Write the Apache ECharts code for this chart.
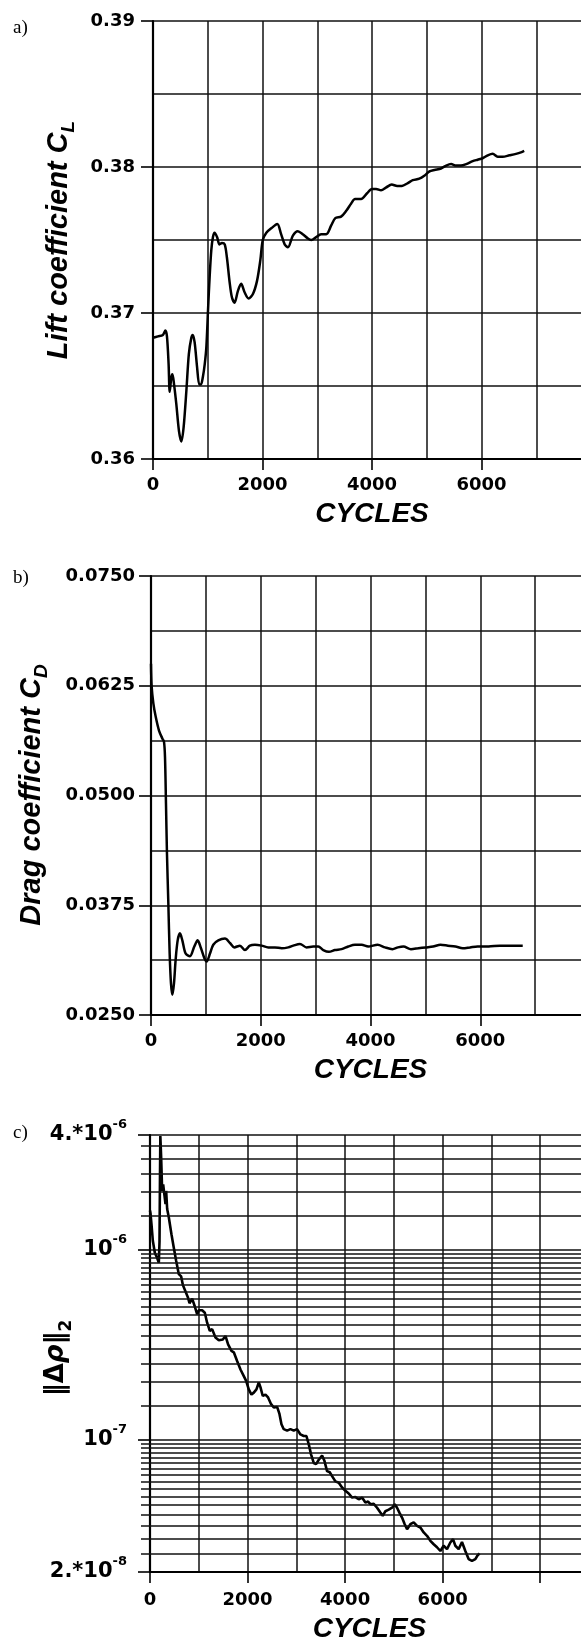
<!DOCTYPE html>
<html>
<head>
<meta charset="utf-8">
<title>Convergence history</title>
<script src="https://cdn.jsdelivr.net/npm/echarts@6.0.0/dist/echarts.min.js"></script>
<style>
  html, body { margin: 0; padding: 0; background: #fff; }
  #chart { width: 581px; height: 1643px; }
</style>
</head>
<body>
<div id="chart"></div>
<script>
// a) lift coefficient vs cycles
const liftData = [
  [0, 0.3683], [90, 0.3684], [180, 0.3685], [226, 0.3688], [255, 0.3684], [285, 0.3665],
  [305, 0.3646], [335, 0.3656], [355, 0.3658], [385, 0.3651], [425, 0.3638], [475, 0.3619],
  [518, 0.3612], [560, 0.3622], [610, 0.3647], [655, 0.3672], [700, 0.3683], [725, 0.3685],
  [760, 0.3680], [805, 0.3663], [845, 0.3651], [875, 0.3651], [910, 0.3656], [945, 0.3665],
  [975, 0.3677], [1005, 0.3702], [1035, 0.3725], [1065, 0.3743], [1095, 0.3752], [1125, 0.3755],
  [1170, 0.3752], [1215, 0.3747], [1260, 0.3748], [1310, 0.3747], [1350, 0.3738], [1400, 0.3721],
  [1440, 0.3711], [1490, 0.3707], [1550, 0.3715], [1610, 0.3720], [1675, 0.3714], [1745, 0.3710],
  [1825, 0.3713], [1900, 0.3722], [1960, 0.3736], [2005, 0.3750], [2070, 0.3755], [2160, 0.3758],
  [2270, 0.3761], [2340, 0.3754], [2405, 0.3747], [2465, 0.3745], [2555, 0.3753], [2645, 0.3756],
  [2735, 0.3754], [2830, 0.3751], [2890, 0.3750], [2980, 0.3752], [3070, 0.3754], [3165, 0.3754],
  [3255, 0.3760], [3330, 0.3765], [3435, 0.3766], [3530, 0.3770], [3620, 0.3775], [3690, 0.3778],
  [3800, 0.3778], [3910, 0.3782], [4000, 0.3785], [4075, 0.3785], [4165, 0.3784], [4260, 0.3786],
  [4360, 0.3788], [4460, 0.3787], [4545, 0.3787], [4655, 0.3789], [4745, 0.3791], [4865, 0.3792],
  [4955, 0.3794], [5050, 0.3797], [5140, 0.3798], [5260, 0.3799], [5355, 0.3801], [5445, 0.3802],
  [5535, 0.3801], [5625, 0.3801], [5720, 0.3802], [5840, 0.3804], [5930, 0.3805], [6020, 0.3806],
  [6115, 0.3808], [6205, 0.3809], [6295, 0.3807], [6385, 0.3807], [6510, 0.3808], [6630, 0.3809],
  [6720, 0.3810], [6780, 0.3811]
];

// b) drag coefficient vs cycles
const dragData = [
  [0, 0.0650], [12, 0.0624], [43, 0.0605], [85, 0.0590], [146, 0.0574], [206, 0.0565],
  [237, 0.0561], [255, 0.0544], [273, 0.0491], [291, 0.0434], [316, 0.0377], [340, 0.0320],
  [364, 0.0286], [389, 0.0273], [419, 0.0286], [449, 0.0313], [486, 0.0335], [528, 0.0343],
  [571, 0.0335], [631, 0.0320], [710, 0.0317], [789, 0.0328], [850, 0.0335], [911, 0.0326],
  [971, 0.0315], [1014, 0.0311], [1075, 0.0320], [1135, 0.0330], [1227, 0.0335], [1348, 0.0337],
  [1439, 0.0332], [1518, 0.0327], [1621, 0.0329], [1712, 0.0324], [1803, 0.0329], [1894, 0.0330],
  [2016, 0.0329], [2137, 0.0327], [2259, 0.0327], [2380, 0.0326], [2502, 0.0327], [2593, 0.0329],
  [2714, 0.0331], [2836, 0.0327], [2957, 0.0328], [3048, 0.0328], [3139, 0.0324], [3242, 0.0322],
  [3352, 0.0324], [3473, 0.0325], [3595, 0.0328], [3716, 0.0330], [3838, 0.0330], [3959, 0.0328],
  [4130, 0.0330], [4265, 0.0327], [4400, 0.0325], [4500, 0.0327], [4600, 0.0328], [4737, 0.0325],
  [4872, 0.0326], [5007, 0.0327], [5141, 0.0328], [5276, 0.0330], [5410, 0.0329], [5547, 0.0328],
  [5682, 0.0326], [5816, 0.0327], [5951, 0.0328], [6153, 0.0328], [6356, 0.0329], [6557, 0.0329],
  [6774, 0.0329]
];

// c) density residual norm vs cycles (log axis)
const residualData = [
  [0, 1.6e-6], [10, 1.55e-6], [31, 1.35e-6], [58, 1.11e-6], [99, 9.6e-7], [147, 9.0e-7],
  [181, 8.5e-7], [195, 1.1e-6], [205, 2.48e-6], [212, 3.95e-6], [229, 3.03e-6], [249, 2.03e-6],
  [270, 2.2e-6], [297, 2.24e-6], [318, 1.73e-6], [331, 2.03e-6], [352, 1.63e-6], [386, 1.47e-6],
  [440, 1.2e-6], [488, 1.02e-6], [536, 8.7e-7], [591, 7.4e-7], [639, 7.2e-7], [673, 6.5e-7],
  [728, 6.0e-7], [776, 5.6e-7], [810, 5.2e-7], [864, 5.5e-7], [919, 5.0e-7], [967, 4.55e-7],
  [1001, 4.78e-7], [1069, 4.78e-7], [1124, 4.64e-7], [1171, 4.11e-7], [1226, 3.72e-7], [1274, 3.8e-7],
  [1342, 3.43e-7], [1411, 3.32e-7], [1493, 3.35e-7], [1547, 3.5e-7], [1601, 3.16e-7], [1670, 2.92e-7],
  [1718, 2.87e-7], [1786, 2.58e-7], [1855, 2.33e-7], [1923, 2.15e-7], [1971, 2.03e-7], [2025, 1.83e-7],
  [2080, 1.72e-7], [2128, 1.76e-7], [2182, 1.83e-7], [2230, 1.99e-7], [2264, 1.88e-7], [2312, 1.69e-7],
  [2367, 1.72e-7], [2421, 1.66e-7], [2483, 1.53e-7], [2538, 1.47e-7], [2606, 1.48e-7], [2654, 1.36e-7],
  [2695, 1.2e-7], [2742, 1.13e-7], [2811, 1.11e-7], [2879, 1.13e-7], [2947, 1.11e-7], [3015, 1.13e-7],
  [3084, 1.06e-7], [3152, 1.04e-7], [3207, 1.04e-7], [3255, 9.4e-8], [3303, 8.3e-8], [3357, 7.5e-8],
  [3405, 7.4e-8], [3460, 7.8e-8], [3528, 8.2e-8], [3576, 7.7e-8], [3630, 6.8e-8], [3685, 6.7e-8],
  [3733, 6.4e-8], [3801, 6.0e-8], [3870, 5.9e-8], [3938, 5.57e-8], [4006, 5.35e-8], [4074, 5.18e-8],
  [4143, 4.93e-8], [4211, 4.96e-8], [4279, 4.83e-8], [4348, 4.93e-8], [4416, 4.64e-8], [4471, 4.7e-8],
  [4519, 4.55e-8], [4587, 4.57e-8], [4655, 4.36e-8], [4723, 4.11e-8], [4771, 3.95e-8], [4826, 4.18e-8],
  [4894, 4.26e-8], [4962, 4.36e-8], [5017, 4.55e-8], [5065, 4.36e-8], [5113, 4.11e-8], [5167, 3.87e-8],
  [5222, 3.57e-8], [5270, 3.36e-8], [5338, 3.57e-8], [5406, 3.65e-8], [5475, 3.5e-8], [5543, 3.43e-8],
  [5611, 3.23e-8], [5679, 3.1e-8], [5748, 2.92e-8], [5816, 2.8e-8], [5884, 2.7e-8], [5953, 2.58e-8],
  [6020, 2.75e-8], [6089, 2.64e-8], [6157, 2.86e-8], [6212, 2.98e-8], [6260, 2.75e-8], [6328, 2.64e-8],
  [6396, 2.88e-8], [6465, 2.58e-8], [6532, 2.34e-8], [6601, 2.29e-8], [6670, 2.34e-8], [6717, 2.45e-8],
  [6758, 2.5e-8]
];

// horizontal grid lines of panel c between the labelled ticks
const residualGrid = [
  3.5e-6, 3e-6, 2.5e-6, 2e-6, 1.5e-6,
  9.5e-7, 9e-7, 8.5e-7, 8e-7, 7.5e-7, 7e-7, 6.5e-7, 6e-7, 5.5e-7, 5e-7, 4.5e-7, 4e-7,
  3.5e-7, 3e-7, 2.5e-7, 2e-7, 1.5e-7,
  9.5e-8, 9e-8, 8.5e-8, 8e-8, 7.5e-8, 7e-8, 6.5e-8, 6e-8, 5.5e-8, 5e-8, 4.5e-8, 4e-8,
  3.5e-8, 3e-8, 2.5e-8
];
const residualTicks = [2e-8, 1e-7, 1e-6, 4e-6];
const residualTickText = [['2.*10', '-8'], ['10', '-7'], ['10', '-6'], ['4.*10', '-6']];

const chart = echarts.init(document.getElementById('chart'));

const tickFont = { fontFamily: 'DejaVu Sans', fontWeight: 'bold', fontSize: 18, color: '#000' };
const gridLine = { show: true, lineStyle: { color: '#111', width: 1.5 } };
const axisLine = { show: true, lineStyle: { color: '#000', width: 2.2 } };
const tickStyle = { color: '#000', width: 1.6 };
// main text sits at the top of the line box, the subscript is pushed to its bottom
const titleRich = {
  m: { fontFamily: 'Liberation Sans', fontWeight: 'bold', fontStyle: 'italic', fontSize: 29, lineHeight: 29, verticalAlign: 'top', fill: '#000' },
  s: { fontFamily: 'Liberation Sans', fontWeight: 'bold', fontStyle: 'italic', fontSize: 19, lineHeight: 34, verticalAlign: 'bottom', fill: '#000' }
};

function gridXAxis(gridIndex, max) {
  return {
    type: 'value', gridIndex, position: 'bottom', min: 0, max, interval: 1000,
    axisLine: { show: false }, axisTick: { show: false }, axisLabel: { show: false },
    splitLine: gridLine
  };
}

function labelXAxis(gridIndex, max, margin, nameGap) {
  return {
    type: 'value', gridIndex, position: 'bottom', min: 0, max, interval: 2000,
    axisLine,
    axisTick: { show: true, length: 11, lineStyle: tickStyle },
    axisLabel: Object.assign({}, tickFont, {
      margin, showMinLabel: true, showMaxLabel: true,
      formatter: (v) => (v >= 8000 ? '' : String(v))
    }),
    splitLine: { show: false },
    name: 'CYCLES', nameLocation: 'middle', nameGap,
    nameTextStyle: { fontFamily: 'Liberation Sans', fontWeight: 'bold', fontStyle: 'italic', fontSize: 28, color: '#000' }
  };
}

function gridYAxis(gridIndex, min, max, interval) {
  return {
    type: 'value', gridIndex, position: 'left', min, max, interval,
    axisLine: { show: false }, axisTick: { show: false }, axisLabel: { show: false },
    splitLine: gridLine
  };
}

function labelYAxis(gridIndex, min, max, interval, digits, margin) {
  return {
    type: 'value', gridIndex, position: 'left', min, max, interval,
    axisLine,
    axisTick: { show: true, length: 12, lineStyle: tickStyle },
    axisLabel: Object.assign({}, tickFont, {
      margin, showMinLabel: true, showMaxLabel: true,
      formatter: (v) => v.toFixed(digits)
    }),
    splitLine: { show: false }
  };
}

function residualLabel(v) {
  let best = 0;
  residualTicks.forEach((t, i) => {
    if (Math.abs(Math.log10(v / t)) < Math.abs(Math.log10(v / residualTicks[best]))) best = i;
  });
  const [m, s] = residualTickText[best];
  return '{m|' + m + '}{s|' + s + '}';
}

const curveStyle = { color: '#000', width: 2.5 };

const option = {
  animation: false,
  backgroundColor: '#fff',
  grid: [
    { left: 153, top: 21, width: 438, height: 438, containLabel: false, outerBoundsMode: 'none' },
    { left: 151, top: 576, width: 439, height: 439, containLabel: false, outerBoundsMode: 'none' },
    { left: 150, top: 1135, width: 439, height: 437, containLabel: false, outerBoundsMode: 'none' }
  ],
  xAxis: [
    gridXAxis(0, 8000), labelXAxis(0, 8000, 17, 41),
    gridXAxis(1, 8000), labelXAxis(1, 8000, 17, 41),
    gridXAxis(2, 9000), labelXAxis(2, 9000, 19, 43)
  ],
  yAxis: [
    gridYAxis(0, 0.36, 0.39, 0.005), labelYAxis(0, 0.36, 0.39, 0.01, 2, 18),
    gridYAxis(1, 0.025, 0.075, 0.00625), labelYAxis(1, 0.025, 0.075, 0.0125, 4, 16),
    {
      type: 'log', logBase: 10, gridIndex: 2, position: 'left', min: 2e-8, max: 4e-6,
      axisLine,
      axisTick: { show: true, length: 12, lineStyle: tickStyle },
      axisLabel: {
        margin: 23, showMinLabel: true, showMaxLabel: true,
        padding: [0, 0, 6, 0],
        formatter: residualLabel,
        rich: {
          m: { fontFamily: 'DejaVu Sans', fontWeight: 'bold', fontSize: 21, lineHeight: 27, verticalAlign: 'bottom', color: '#000' },
          s: { fontFamily: 'DejaVu Sans', fontWeight: 'bold', fontSize: 13, lineHeight: 13, verticalAlign: 'top', color: '#000' }
        }
      },
      splitLine: gridLine
    }
  ],
  series: [
    {
      name: 'Lift coefficient', type: 'line', xAxisIndex: 0, yAxisIndex: 0,
      data: liftData, showSymbol: false, smooth: 0.3, silent: true, lineStyle: curveStyle
    },
    {
      name: 'Drag coefficient', type: 'line', xAxisIndex: 2, yAxisIndex: 2,
      data: dragData, showSymbol: false, smooth: 0.3, silent: true, lineStyle: curveStyle
    },
    {
      name: 'Residual', type: 'line', xAxisIndex: 4, yAxisIndex: 4,
      data: residualData, showSymbol: false, silent: true, lineStyle: { color: '#000', width: 2.6 }
    },
    {
      // extra log grid lines (with their short ticks left of the axis)
      name: 'grid', type: 'line', xAxisIndex: 4, yAxisIndex: 4, data: [], clip: false, silent: true,
      markLine: {
        silent: true, symbol: 'none', animation: false,
        label: { show: false },
        lineStyle: { color: '#111', width: 1.5, type: 'solid' },
        emphasis: { disabled: true },
        data: residualGrid.map((v) => [{ x: 141, yAxis: v }, { xAxis: 9000, yAxis: v }])
      }
    }
  ],
  graphic: [
    { type: 'text', x: 13, y: 28, style: { text: 'a)', font: '19px "Liberation Serif"', fill: '#000', verticalAlign: 'middle', textVerticalAlign: 'middle' } },
    { type: 'text', x: 13, y: 578, style: { text: 'b)', font: '19px "Liberation Serif"', fill: '#000', verticalAlign: 'middle', textVerticalAlign: 'middle' } },
    { type: 'text', x: 13, y: 1133, style: { text: 'c)', font: '19px "Liberation Serif"', fill: '#000', verticalAlign: 'middle', textVerticalAlign: 'middle' } },
    {
      type: 'text', x: 44, y: 240, rotation: Math.PI / 2,
      style: { text: '{m|Lift coefficient C}{s|L}', rich: titleRich, align: 'center', textAlign: 'center', verticalAlign: 'top', textVerticalAlign: 'top' }
    },
    {
      type: 'text', x: 17, y: 795, rotation: Math.PI / 2,
      style: { text: '{m|Drag coefficient C}{s|D}', rich: titleRich, align: 'center', textAlign: 'center', verticalAlign: 'top', textVerticalAlign: 'top' }
    },
    {
      type: 'text', x: 43, y: 1358, rotation: Math.PI / 2,
      style: {
        text: '{m|‖Δ}{r|ρ}{m|‖}{s|2}',
        rich: {
          m: { fontFamily: 'DejaVu Sans', fontWeight: 'bold', fontSize: 26, lineHeight: 26, verticalAlign: 'top', fill: '#000' },
          r: { fontFamily: 'DejaVu Sans', fontWeight: 'bold', fontStyle: 'italic', fontSize: 26, lineHeight: 26, verticalAlign: 'top', fill: '#000' },
          s: { fontFamily: 'DejaVu Sans', fontWeight: 'bold', fontSize: 17, lineHeight: 32, verticalAlign: 'bottom', fill: '#000' }
        },
        align: 'center', textAlign: 'center', verticalAlign: 'top', textVerticalAlign: 'top'
      }
    }
  ]
};

chart.setOption(option);
</script>
</body>
</html>
